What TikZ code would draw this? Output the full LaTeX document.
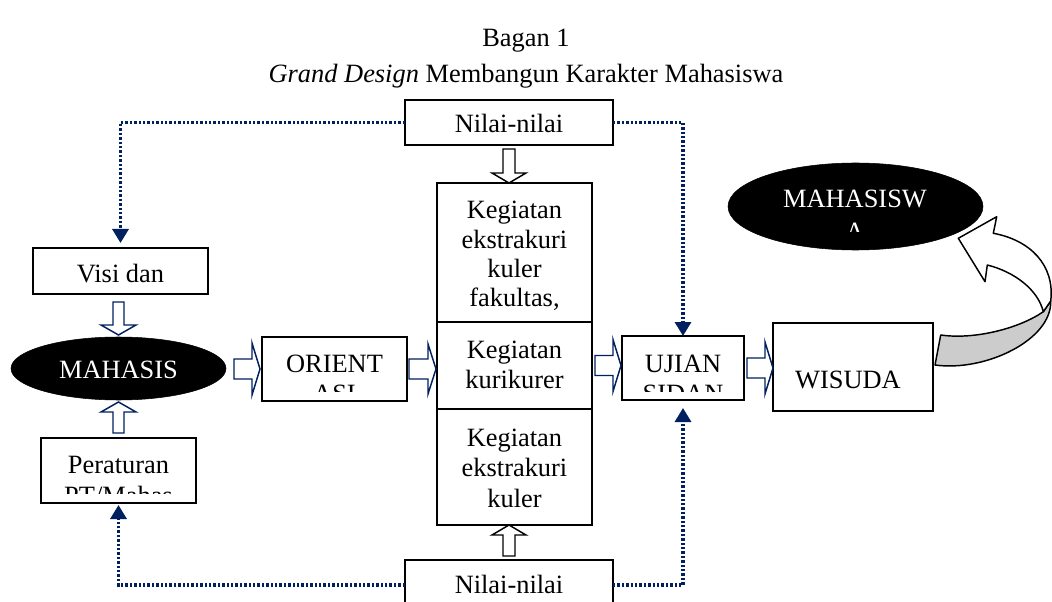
\documentclass[tikz,border=0pt]{standalone}
\usepackage{fontspec}
\setmainfont{Liberation Serif}
\usetikzlibrary{arrows.meta,calc,shapes.geometric}
\definecolor{navy}{RGB}{0,32,96}
\definecolor{foldgrey}{RGB}{204,204,204}
% hollow block arrows: style, tip, total length, shaft half-width, head half-width (, head length)
\newcommand\rarr[5]{\draw[#1] (#2) -- ++(-8,-#5) -- ++(0,#5-#4) -- ++(-#3+8,0) -- ++(0,2*#4) -- ++(#3-8,0) -- ++(0,#5-#4) -- cycle;}
\newcommand\darr[6]{\draw[#1] (#2) -- ++(-#5,-#6) -- ++(#5-#4,0) -- ++(0,-#3+#6) -- ++(2*#4,0) -- ++(0,#3-#6) -- ++(#5-#4,0) -- cycle;}
\newcommand\uarr[6]{\draw[#1] (#2) -- ++(-#5,#6) -- ++(#5-#4,0) -- ++(0,#3-#6) -- ++(2*#4,0) -- ++(0,-#3+#6) -- ++(#5-#4,0) -- cycle;}
\begin{document}
\begin{tikzpicture}[x=0.75pt,y=-0.75pt,
 every node/.style={font=\fontsize{19.8pt}{23pt}\selectfont, inner sep=0pt, outer sep=0pt},
 box/.style={draw, line width=1.3pt, fill=white, rectangle},
 pbox/.style n args={4}{box, minimum width={(#3-#1)*0.75pt}, minimum height={(#4-#2)*0.75pt}, at={({(#1+#3)/2},{(#2+#4)/2})}},
 txt/.style={anchor=base},
 wtxt/.style={anchor=base, text=white},
 blob/.style={ellipse, fill=black, draw=black},
 dotline/.style={navy, line width=2.4pt, dash pattern=on 1.8pt off 1.5pt, -{Triangle[width=12pt,length=10.5pt]}},
 navyarr/.style={draw=navy, fill=white, line width=1.1pt, line join=miter},
 blackarr/.style={draw=black, fill=white, line width=1.1pt, line join=miter},
 curvearr/.style={draw=black, line width=1.1pt, line join=round}
]
\useasboundingbox (0,0) rectangle (1052,602);

% titles
\node[txt] (title1) at (526,47) {Bagan 1};
\node[txt] (title2) at (526,83) {\textit{Grand Design} Membangun Karakter Mahasiswa};

% boxes
\node[pbox={405}{100}{613}{145}] (nilaiT) {};
\node[pbox={437}{183}{592}{322}] (kegA) {};
\node[pbox={437}{322}{592}{409}] (kegB) {};
\node[pbox={437}{409}{592}{525}] (kegC) {};
\node[pbox={405}{560}{613}{610}] (nilaiB) {};
\node[pbox={33}{248}{208}{294}] (visi) {};
\node[pbox={41}{438}{196}{503}] (perat) {};
\node[pbox={262}{337}{407}{401}] (orient) {};
\node[pbox={622}{336}{744}{400}] (ujian) {};
\node[pbox={773}{323}{933}{411}] (wisuda) {};
\node[blob, minimum width={215*0.75pt}, minimum height={63*0.75pt}] (mhs) at (118.5,368.5) {};
\node[blob, minimum width={255*0.75pt}, minimum height={87*0.75pt}] (mhsw) at (855.5,206.5) {};

% texts
\node[txt] (tNT) at (509,133) {Nilai-nilai};
\node[txt] (tA1) at (514.5,219) {Kegiatan};
\node[txt] (tA2) at (514.5,248) {ekstrakuri};
\node[txt] (tA3) at (514.5,277) {kuler};
\node[txt] (tA4) at (514.5,306) {fakultas,};
\node[txt] (tB1) at (514.5,358) {Kegiatan};
\node[txt] (tB2) at (514.5,388) {kurikurer};
\node[txt] (tC1) at (514.5,446) {Kegiatan};
\node[txt] (tC2) at (514.5,476) {ekstrakuri};
\node[txt] (tC3) at (514.5,507) {kuler};
\node[txt] (tNB) at (509,593) {Nilai-nilai};
\node[txt] (tV) at (120.5,282) {Visi dan};
\node[txt] (tP1) at (118.5,473) {Peraturan};
\begin{scope}
\clip ($(perat.south west)+(1,-10)$) rectangle (perat.north east);
\node[txt] (tP2) at (118.5,504) {PT/Mahas};
\end{scope}
\node[txt] (tO1) at (334.5,372) {ORIENT};
\begin{scope}
\clip ($(orient.south west)+(1,-10)$) rectangle (orient.north east);
\node[txt] (tO2) at (334.5,402) {ASI};
\end{scope}
\node[txt] (tU1) at (683,372) {UJIAN};
\begin{scope}
\clip ($(ujian.south west)+(1,-9)$) rectangle (ujian.north east);
\node[txt] (tU2) at (683,402) {SIDAN};
\end{scope}
\node[txt] (tW) at (848,388) {WISUDA};
\node[wtxt] (tM) at (118.5,378) {MAHASIS};
\node[wtxt] (tMW1) at (855,208) {MAHASISW};
\begin{scope}
\clip (800,210) rectangle (910,232);
\node[wtxt] (tMW2) at (855,241) {A};
\end{scope}

% dotted connectors
\draw[dotline, shorten >=3.75pt] (nilaiT.west) -| (visi.north);
\draw[dotline] (nilaiT.east) -| (ujian.north);
\draw[dotline, shorten >=1.5pt] (nilaiB.west) -| (perat.south);
\draw[dotline, shorten >=6pt] (nilaiB.east) -| (ujian.south);

% hollow block arrows
\darr{navyarr}{$(mhs.north)+(0,-2)$}{33}{5.5}{17.5}{10}
\uarr{navyarr}{$(mhs.south)+(0,2)$}{31}{5.5}{17.5}{10}
\rarr{navyarr}{$(orient.west)+(-2,0)$}{26}{10}{26}
\rarr{navyarr}{$(kegB.west|-orient.east)+(-1,0)$}{27}{10}{25}
\rarr{navyarr}{$(ujian.west|-kegB.east)+(-1,0)$}{26}{10}{26}
\rarr{navyarr}{wisuda.west|-ujian.east}{26}{10}{26}
\darr{blackarr}{nilaiT.south|-kegA.north}{34}{6}{17}{10}
\uarr{blackarr}{nilaiB.north|-kegC.south}{31}{6}{17}{10}

% curved 3D arrow from WISUDA to MAHASISWA
\draw[curvearr, fill=foldgrey] (940.7,335) .. controls (975,340) and (1020,328) .. (1043.3,311.7)
  -- (1050.7,301) .. controls (1052,340) and (985,372) .. (935,365) -- cycle;
\draw[curvearr, fill=white] (1050.7,301) .. controls (1055,265) and (1030,240) .. (993.3,233.3)
  -- (996.7,216.7) -- (958.3,238.3) -- (985,281.7) -- (987.3,265)
  .. controls (1015,272) and (1038,290) .. (1043.3,311.7) -- cycle;
\end{tikzpicture}
\end{document}
